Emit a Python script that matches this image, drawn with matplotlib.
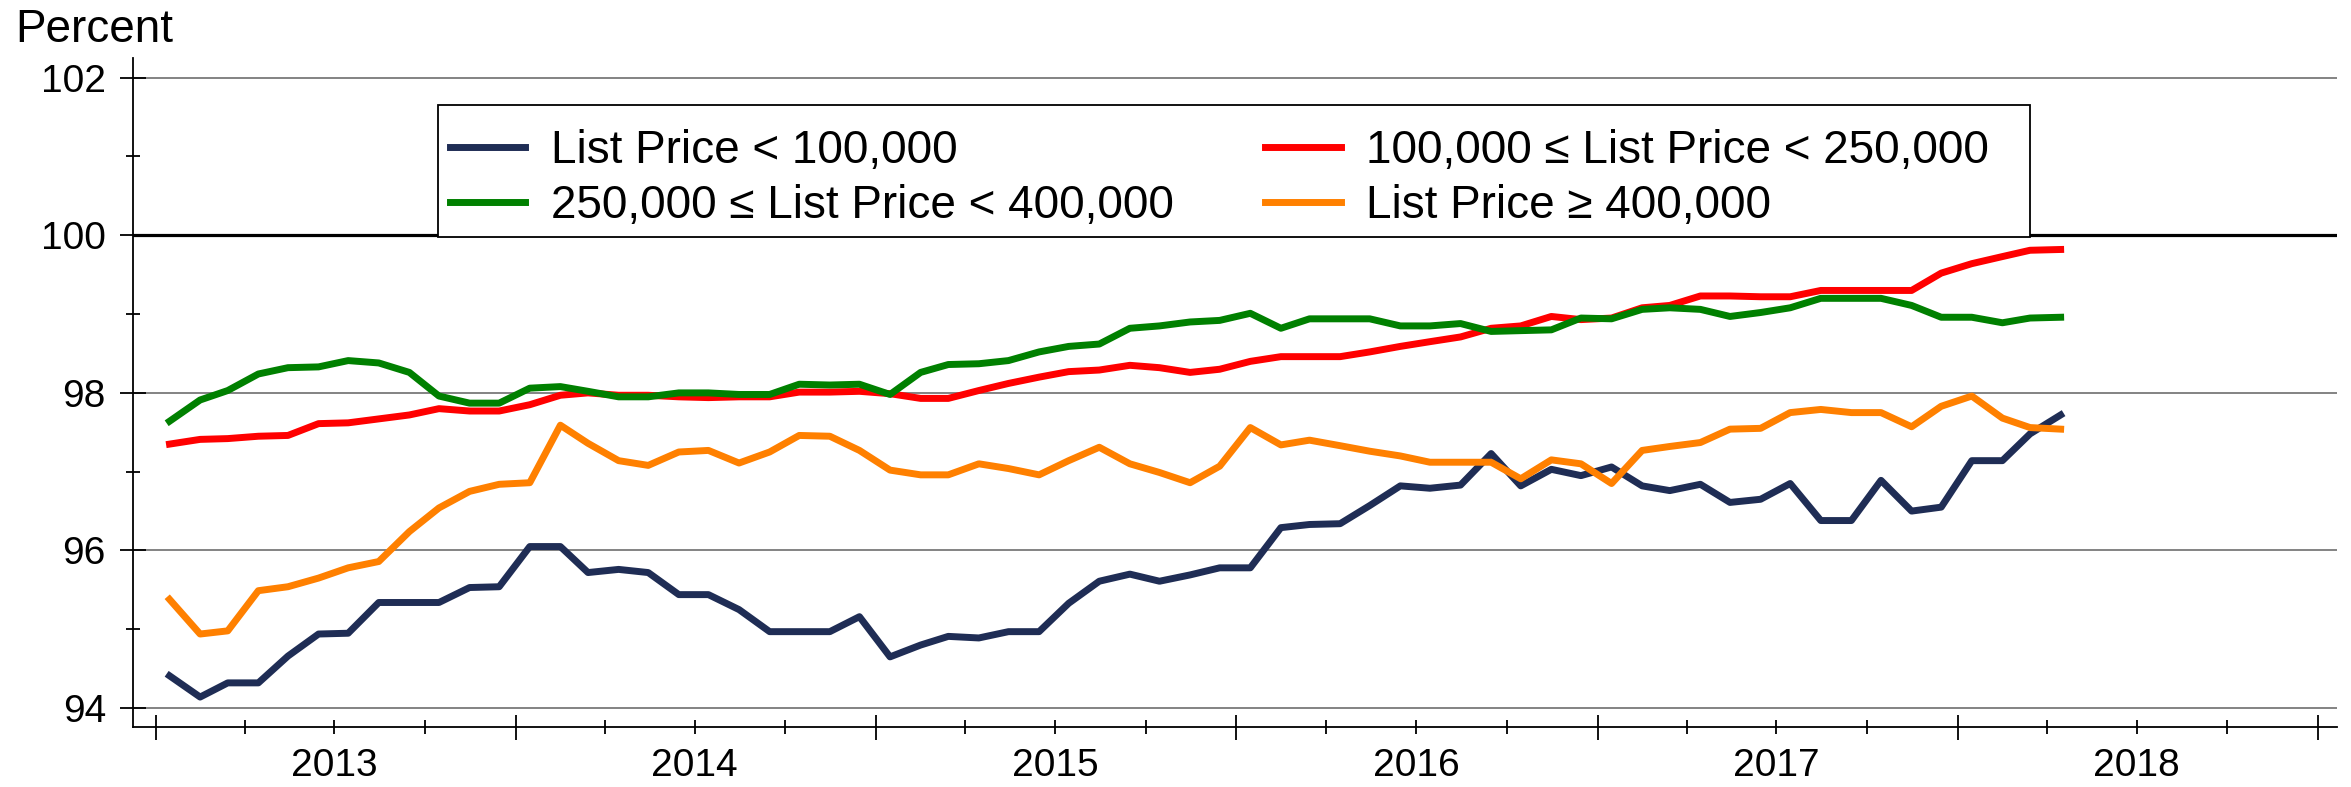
import matplotlib
matplotlib.use("Agg")
import matplotlib.pyplot as plt
import matplotlib.dates as mdates
import matplotlib.ticker as mticker
from matplotlib.patches import Rectangle
import pandas as pd

plt.rcParams['font.family'] = ['Liberation Sans', 'DejaVu Sans']

# monthly, Jan 2013 - Apr 2018
months = pd.date_range('2013-01-01', periods=64, freq='MS') + pd.Timedelta(days=14)

under_100k = [94.41, 94.14, 94.32, 94.32, 94.66, 94.94, 94.95, 95.34, 95.34, 95.34, 95.53, 95.54,
              96.05, 96.05, 95.72, 95.76, 95.72, 95.44, 95.44, 95.25, 94.97, 94.97, 94.97, 95.16,
              94.65, 94.80, 94.91, 94.89, 94.97, 94.97, 95.33, 95.61, 95.70, 95.61, 95.69, 95.78,
              95.78, 96.29, 96.33, 96.34, 96.57, 96.82, 96.79, 96.83, 97.23, 96.82, 97.03, 96.95,
              97.06, 96.82, 96.76, 96.84, 96.61, 96.65, 96.85, 96.38, 96.38, 96.89, 96.50, 96.55,
              97.14, 97.14, 97.48, 97.72]
from_100k_250k = [97.35, 97.41, 97.42, 97.45, 97.46, 97.61, 97.62, 97.67, 97.72, 97.80, 97.77, 97.77,
                  97.85, 97.97, 98.00, 97.97, 97.97, 97.95, 97.94, 97.95, 97.95, 98.01, 98.01, 98.02,
                  97.99, 97.93, 97.93, 98.03, 98.12, 98.20, 98.27, 98.29, 98.35, 98.32, 98.26, 98.30,
                  98.40, 98.46, 98.46, 98.46, 98.52, 98.59, 98.65, 98.71, 98.82, 98.85, 98.97, 98.93,
                  98.95, 99.08, 99.11, 99.23, 99.23, 99.22, 99.22, 99.30, 99.30, 99.30, 99.30, 99.52,
                  99.64, 99.73, 99.81, 99.82]
from_250k_400k = [97.64, 97.91, 98.03, 98.24, 98.32, 98.33, 98.41, 98.38, 98.26, 97.96, 97.87, 97.87,
                  98.06, 98.08, 98.02, 97.95, 97.95, 98.00, 98.00, 97.98, 97.98, 98.11, 98.10, 98.11,
                  97.98, 98.26, 98.36, 98.37, 98.41, 98.52, 98.59, 98.62, 98.82, 98.85, 98.90, 98.92,
                  99.01, 98.82, 98.94, 98.94, 98.94, 98.85, 98.85, 98.88, 98.78, 98.79, 98.80, 98.95,
                  98.94, 99.06, 99.08, 99.06, 98.97, 99.02, 99.08, 99.20, 99.20, 99.20, 99.11, 98.96,
                  98.96, 98.89, 98.95, 98.96]
over_400k = [95.38, 94.94, 94.98, 95.49, 95.54, 95.65, 95.78, 95.86, 96.24, 96.54, 96.75, 96.84,
             96.86, 97.59, 97.36, 97.14, 97.08, 97.25, 97.27, 97.11, 97.25, 97.46, 97.45, 97.27,
             97.02, 96.96, 96.96, 97.10, 97.04, 96.96, 97.14, 97.31, 97.10, 96.99, 96.86, 97.07,
             97.56, 97.34, 97.40, 97.33, 97.26, 97.20, 97.12, 97.12, 97.12, 96.91, 97.15, 97.10,
             96.85, 97.27, 97.32, 97.37, 97.54, 97.55, 97.75, 97.79, 97.75, 97.75, 97.57, 97.83,
             97.96, 97.68, 97.56, 97.54]

labels = ["List Price < 100,000", "100,000 \u2264 List Price < 250,000",
          "250,000 \u2264 List Price < 400,000", "List Price \u2265 400,000"]
colors = ["#1f2d55", "#ff0000", "#008000", "#ff8000"]

W, H = 2351, 787
fig = plt.figure(figsize=(W / 100, H / 100), dpi=100)
ax = fig.add_axes([133 / W, 1 - 727 / H, (2337 - 133) / W, (727 - 58) / H])

series = [under_100k, from_100k_250k, from_250k_400k, over_400k]
lines = []
for vals, lab, col in zip(series, labels, colors):
    ln, = ax.plot(months, vals, color=col, lw=5, label=lab, zorder=3)
    lines.append(ln)

ax.set_ylim(93.76, 102.25)
ax.set_xlim(pd.Timestamp('2012-12-09'), pd.Timestamp('2019-01-20'))

ax.yaxis.set_major_locator(mticker.MultipleLocator(2))
ax.yaxis.set_minor_locator(mticker.MultipleLocator(1))
ax.yaxis.set_major_formatter(mticker.FormatStrFormatter('%d'))

# years at the major ticks, quarters as minor ticks, year names under mid-year
ax.xaxis.set_major_locator(mdates.YearLocator())
ax.xaxis.set_major_formatter(mticker.NullFormatter())
ax.xaxis.set_minor_locator(mdates.MonthLocator(bymonth=[4, 7, 10]))
ax.xaxis.set_minor_formatter(mticker.FuncFormatter(
    lambda x, pos: mdates.num2date(x).strftime('%Y') if mdates.num2date(x).month == 7 else ''))

for s in ['top', 'right']:
    ax.spines[s].set_visible(False)
for s in ['left', 'bottom']:
    ax.spines[s].set_linewidth(1.3)

ax.tick_params(axis='y', which='major', direction='inout', length=19, width=1.3, pad=10, labelsize=28)
ax.tick_params(axis='y', which='minor', direction='inout', length=9.5, width=1.3)
ax.tick_params(axis='x', which='major', direction='inout', length=18, width=1.3)
ax.tick_params(axis='x', which='minor', direction='inout', length=10, width=1.3, pad=10, labelsize=28)

for y in [94, 96, 98, 102]:
    ax.axhline(y, color='#7a7a7a', lw=1.3, zorder=1)
ax.axhline(100, color='black', lw=2.3, zorder=1)

fig.text(15 / W, 1 - 42 / H, "Percent", fontsize=33, va='baseline', ha='left')

# legend box drawn separately so its padding matches the original
box = Rectangle((438 / W, 1 - 237 / H), (2030 - 438) / W, (237 - 105) / H,
                transform=fig.transFigure, facecolor='white', edgecolor='black',
                lw=1.3, zorder=4)
ax.add_artist(box)

order = [0, 2, 1, 3]
leg = ax.legend([lines[i] for i in order], [labels[i] for i in order], ncol=2,
                loc='upper left', bbox_to_anchor=(450 / W, 1 - 129 / H),
                bbox_transform=fig.transFigure, borderaxespad=0, borderpad=0,
                fontsize=33, handlelength=1.64, handletextpad=0.56, columnspacing=2.0,
                labelspacing=0.25, frameon=False)
leg.set_zorder(5)

fig.savefig("out.png", dpi=100)
